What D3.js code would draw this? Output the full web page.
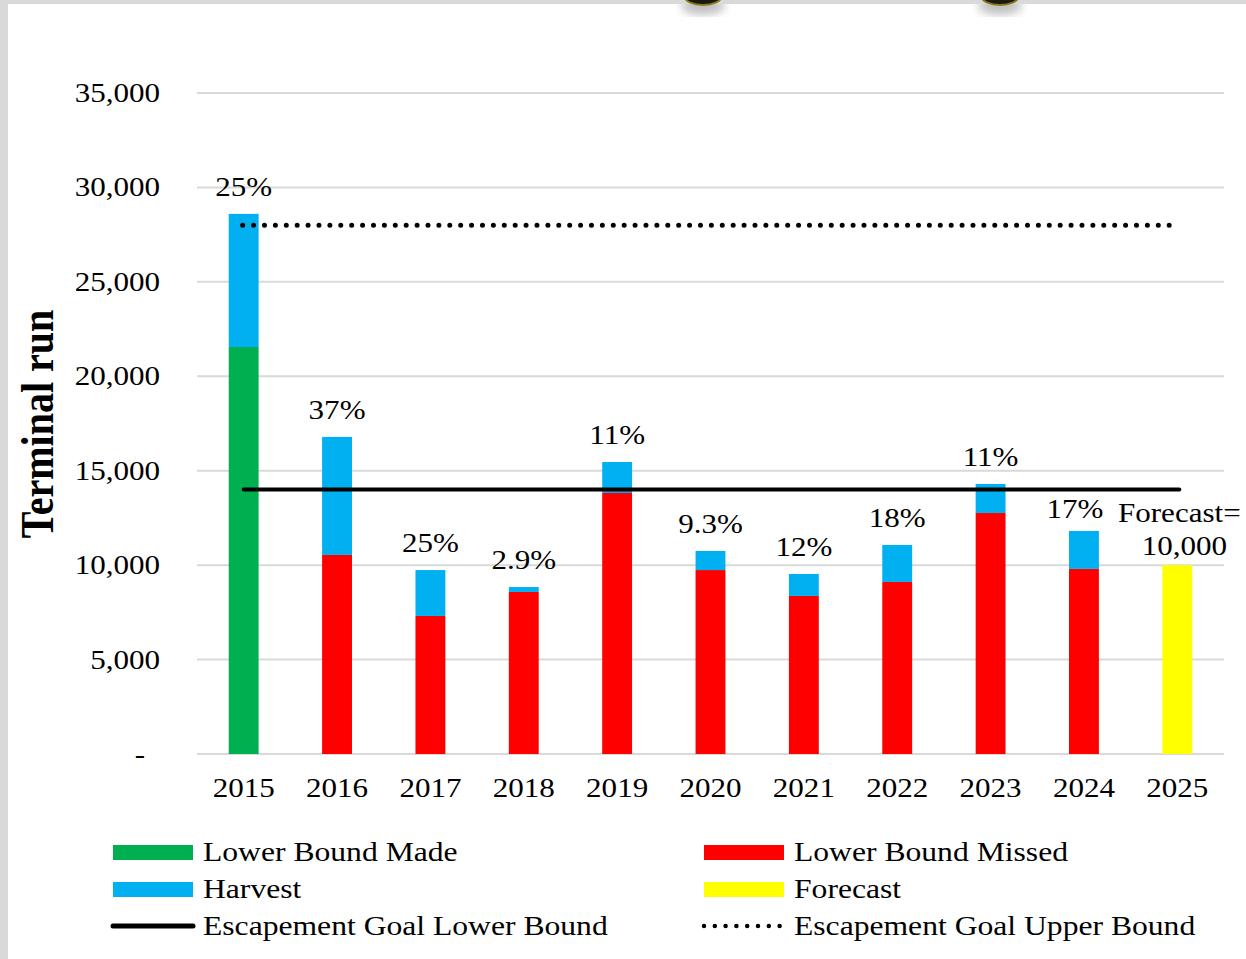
<!DOCTYPE html>
<html>
<head>
<meta charset="utf-8">
<script src="https://cdn.jsdelivr.net/npm/d3@7"></script>
<style>
  body { margin: 0; background: #fff; }
  svg text { font-family: "Liberation Serif", "Times New Roman", serif; fill: #000; }
</style>
</head>
<body>
<div id="chart"></div>
<script>
const years      = ["2015","2016","2017","2018","2019","2020","2021","2022","2023","2024","2025"];
const escapement = [21550, 10540, 7310, 8580, 13820, 9740, 8370, 9110, 12760, 9800, 10000];
const harvest    = [7050, 6250, 2430, 260, 1640, 1010, 1160, 1960, 1540, 2010, 0];
const status     = ["made","missed","missed","missed","missed","missed","missed","missed","missed","missed","forecast"];
const pctLabels  = ["25%","37%","25%","2.9%","11%","9.3%","12%","18%","11%","17%",""];
const yTicks     = [0, 5000, 10000, 15000, 20000, 25000, 30000, 35000];
const lowerBound = 14000;
const upperBound = 28000;
const forecastText = ["Forecast=", "10,000"];

const colors = {made: "#00b050", missed: "#ff0000", forecast: "#ffff00", harvest: "#00b0f0"};
const legendItems = [
  {label: "Lower Bound Made",             kind: "rect",   color: colors.made},
  {label: "Lower Bound Missed",           kind: "rect",   color: colors.missed},
  {label: "Harvest",                      kind: "rect",   color: colors.harvest},
  {label: "Forecast",                     kind: "rect",   color: colors.forecast},
  {label: "Escapement Goal Lower Bound",  kind: "solid"},
  {label: "Escapement Goal Upper Bound",  kind: "dotted"}
];

const W = 1246, H = 959;
const SX = 1.15; // text in the picture is stretched horizontally

const svg = d3.select("#chart").append("svg")
  .attr("width", W).attr("height", H);

// frame
svg.append("rect").attr("width", W).attr("height", H).attr("fill", "#d9d9d9");
svg.append("rect").attr("x", 8).attr("y", 4).attr("width", W - 8).attr("height", H - 4).attr("fill", "#fff");

// decorative rings cut off at top
const defs = svg.append("defs");
defs.append("filter").attr("id", "blur").append("feGaussianBlur").attr("stdDeviation", 4);
[703, 1000].forEach(cx => {
  svg.append("ellipse").attr("cx", cx).attr("cy", 6).attr("rx", 22).attr("ry", 9)
    .attr("fill", "#999").attr("filter", "url(#blur)").attr("opacity", 0.6);
  svg.append("rect").attr("x", cx - 40).attr("y", 0).attr("width", 80).attr("height", 4).attr("fill", "#d9d9d9");
  svg.append("ellipse").attr("cx", cx).attr("cy", -3).attr("rx", 18).attr("ry", 8)
    .attr("fill", "#1a1a10").attr("stroke", "#8a7a1a").attr("stroke-width", 2);
});

function txt(g, x, y, s, size, anchor, weight) {
  return g.append("text")
    .attr("transform", `translate(${x},${y}) scale(${SX},1)`)
    .attr("text-anchor", anchor || "middle")
    .attr("font-size", size)
    .attr("font-weight", weight || "normal")
    .text(s);
}

const x = d3.scaleBand().domain(years).range([197, 1224]).paddingInner(0.68).paddingOuter(0.34);
const y = d3.scaleLinear().domain([0, 35000]).range([754, 93]);

// gridlines
svg.append("g").selectAll("line").data(yTicks).join("line")
  .attr("x1", 197).attr("x2", 1224)
  .attr("y1", d => y(d)).attr("y2", d => y(d))
  .attr("stroke", "#d9d9d9").attr("stroke-width", 2);

// y tick labels
const fmt = d3.format(",");
const yl = svg.append("g");
yTicks.forEach(t => {
  if (t === 0) txt(yl, 145, y(t) + 9, "-", 27, "end");
  else txt(yl, 160, y(t) + 9, fmt(t), 27, "end");
});

// y axis title
svg.append("text")
  .attr("transform", `translate(53,424) scale(${SX},1) rotate(-90)`)
  .attr("text-anchor", "middle")
  .attr("font-size", 40)
  .attr("font-weight", "bold")
  .text("Terminal run");

// bars
const bars = svg.append("g");
years.forEach((yr, i) => {
  const x0 = x(yr), bw = x.bandwidth();
  bars.append("rect")
    .attr("x", x0).attr("width", bw)
    .attr("y", y(escapement[i])).attr("height", y(0) - y(escapement[i]))
    .attr("fill", colors[status[i]]);
  if (harvest[i] > 0) {
    bars.append("rect")
      .attr("x", x0).attr("width", bw)
      .attr("y", y(escapement[i] + harvest[i]))
      .attr("height", y(escapement[i]) - y(escapement[i] + harvest[i]))
      .attr("fill", colors.harvest);
  }
});

// year labels
const xl = svg.append("g");
years.forEach(yr => txt(xl, x(yr) + x.bandwidth() / 2, 797, yr, 27));

// goal lines
const xStart = x(years[0]) + x.bandwidth() / 2;
const xEnd = x(years[years.length - 1]) + x.bandwidth() / 2;
svg.append("line")
  .attr("x1", xStart).attr("x2", xEnd + 2)
  .attr("y1", y(lowerBound)).attr("y2", y(lowerBound))
  .attr("stroke", "#000").attr("stroke-width", 4).attr("stroke-linecap", "round");
svg.append("line")
  .attr("x1", xStart - 1).attr("x2", xEnd - 4)
  .attr("y1", y(upperBound)).attr("y2", y(upperBound))
  .attr("stroke", "#000").attr("stroke-width", 5)
  .attr("stroke-linecap", "round").attr("stroke-dasharray", "0 10.9");

// percent labels
const pl = svg.append("g");
years.forEach((yr, i) => {
  if (!pctLabels[i]) return;
  const top = y(escapement[i] + harvest[i]);
  const cx = x(yr) + x.bandwidth() / 2;
  // last labelled bar sits beside the forecast note, so it is nudged
  const nudge = i === years.length - 2 ? [-9, 5] : [0, 0];
  txt(pl, cx + nudge[0], top - 18 + nudge[1], pctLabels[i], 27);
});

// forecast note
const fi = years.length - 1;
const fcx = x(years[fi]) + x.bandwidth() / 2;
txt(pl, fcx + 2, y(escapement[fi]) - 43, forecastText[0], 27);
txt(pl, fcx + 7, y(escapement[fi]) - 10, forecastText[1], 27);

// legend
const lg = svg.append("g");
legendItems.forEach((d, i) => {
  const col = i % 2, row = Math.floor(i / 2);
  const lx = col === 0 ? 113 : 704;
  const ly = 852 + row * 37;
  if (d.kind === "rect") {
    lg.append("rect").attr("x", lx).attr("y", ly - 7).attr("width", 80).attr("height", 15).attr("fill", d.color);
  } else if (d.kind === "solid") {
    lg.append("line").attr("x1", lx).attr("x2", lx + 80).attr("y1", ly).attr("y2", ly)
      .attr("stroke", "#000").attr("stroke-width", 5).attr("stroke-linecap", "round");
  } else {
    lg.append("line").attr("x1", lx).attr("x2", lx + 76).attr("y1", ly).attr("y2", ly)
      .attr("stroke", "#000").attr("stroke-width", 4.5).attr("stroke-linecap", "round")
      .attr("stroke-dasharray", "0 10.8");
  }
  txt(lg, lx + 90, ly + 9, d.label, 27.5, "start");
});
</script>
</body>
</html>
